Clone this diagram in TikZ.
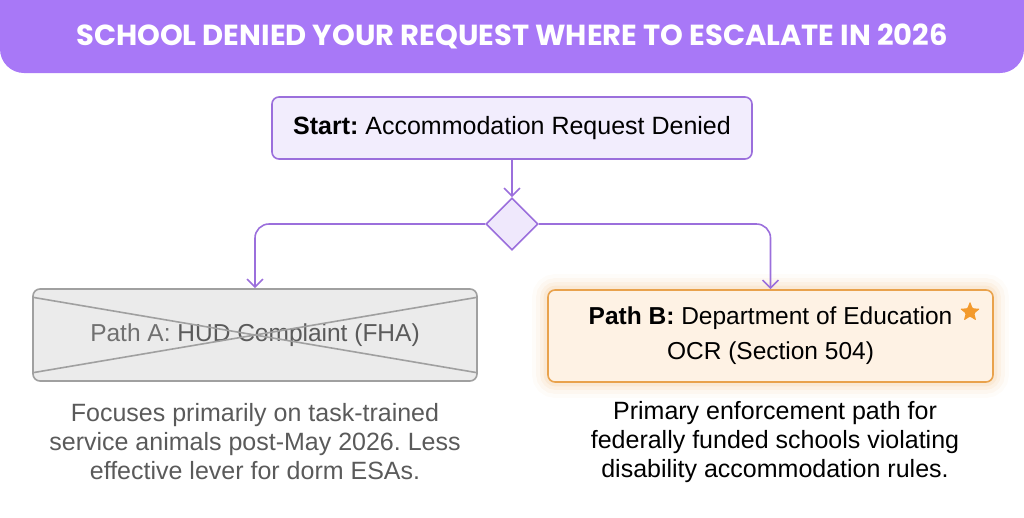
\documentclass[tikz,border=0pt]{standalone}
\usepackage{fontspec}
\setmainfont{Liberation Sans}
\newfontfamily\titlefont{Poppins}
\usetikzlibrary{arrows.meta, positioning, shapes.geometric, backgrounds}
\frenchspacing

\definecolor{titlepurple}{HTML}{A878F7}
\definecolor{flowpurple}{HTML}{9B6FDC}
\definecolor{startfill}{HTML}{F2EDFD}
\definecolor{diamondfill}{HTML}{EFE8FC}
\definecolor{greyfill}{HTML}{EBEBEB}
\definecolor{greyline}{HTML}{A0A0A0}
\definecolor{greytext}{HTML}{5A5A5A}
\definecolor{paletext}{HTML}{707070}
\definecolor{orangeline}{HTML}{E9A24C}
\definecolor{orangefill}{HTML}{FEF2E4}
\definecolor{starorange}{HTML}{F39A2C}

\begin{document}
\begin{tikzpicture}[
x=1pt, y=-1pt,
box/.style={
draw,
rounded corners=7pt,
line width=1.6pt,
align=center,
inner sep=0pt,
font=\fontsize{24.5}{35}\selectfont
},
arrow/.style={-{Straight Barb[length=8pt,width=16pt]}, line width=1.6pt, draw=flowpurple, rounded corners=14pt},
note/.style={align=center, font=\fontsize{25}{29}\selectfont}
]
\useasboundingbox (0,0) rectangle (1024,517);

% ------------------------
% Title bar
% ------------------------
\fill[titlepurple, rounded corners=24pt] (0,-30) rectangle (1024,73);
\node[text=white, font=\titlefont\bfseries\fontsize{29}{34}\selectfont] (title) at (512,36)
{SCHOOL DENIED YOUR REQUEST WHERE TO ESCALATE IN 2026};

% ------------------------
% Start and decision
% ------------------------
\node[box, draw=flowpurple, fill=startfill, minimum width=480pt, minimum height=62pt,
font=\fontsize{25}{30}\selectfont] (start) at (512,128)
{\textbf{Start:} Accommodation Request Denied};

\node[diamond, draw=flowpurple, fill=diamondfill, line width=1.6pt, minimum size=52pt, inner sep=0pt] (dec) at (512,224) {};

% ------------------------
% Path A (left, crossed out)
% ------------------------
\node[box, draw=greyline, fill=greyfill, text=greytext, minimum width=444pt, minimum height=92pt] (pathA) at (255,335)
{\textcolor{paletext}{Path A:} HUD Complaint (FHA)};
\draw[greyline, line width=1.6pt] ([yshift=-9pt]pathA.north west) -- ([yshift=9pt]pathA.south east);
\draw[greyline, line width=1.6pt] ([yshift=9pt]pathA.south west) -- ([yshift=-9pt]pathA.north east);

\node[note, text=greytext] (noteA) at (255,442)
{Focuses primarily on task-trained\\service animals post-May 2026. Less\\effective lever for dorm ESAs.};

% ------------------------
% Path B (right, recommended)
% ------------------------
\node[box, draw=orangeline, fill=orangefill, minimum width=445pt, minimum height=92pt] (pathB) at (770.5,336)
{\textbf{Path B:} Department of Education\\OCR (Section 504)};
\begin{scope}[on background layer]
\foreach \w/\o in {30/0.03, 22/0.05, 14/0.07, 7/0.1}
  \draw[orangeline, line width=\w pt, opacity=\o, rounded corners=8pt]
    (pathB.north west) rectangle (pathB.south east);
\end{scope}
\node[star, star points=5, star point ratio=2.3, fill=starorange, rounded corners=1pt, minimum size=21pt, inner sep=0pt] (star) at (970,312) {};

\node[note] (noteB) at (775,442)
{Primary enforcement path for\\federally funded schools violating\\disability accommodation rules.};

% ------------------------
% Arrows
% ------------------------
\draw[arrow] (start) -- (dec);
\draw[arrow] (dec.west) -| (pathA.north);
\draw[arrow] (dec.east) -| (pathB.north);

\end{tikzpicture}
\end{document}
